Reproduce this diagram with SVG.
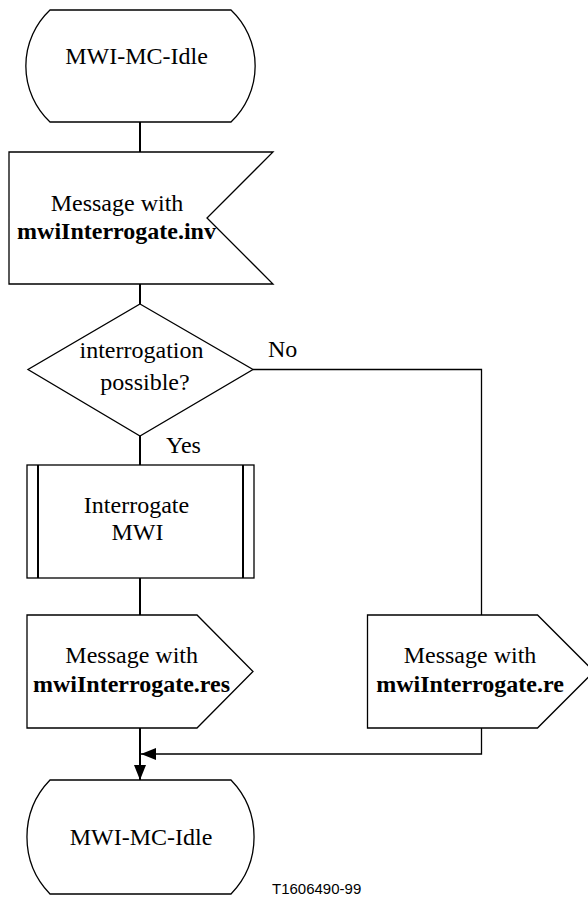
<svg xmlns="http://www.w3.org/2000/svg" width="588" height="897" viewBox="0 0 588 897">
<defs>
<style>
.shape{fill:#fff;stroke:#000;stroke-width:1.3}
.t{font-family:"Liberation Serif","Times New Roman",serif;font-size:24px;fill:#000;text-anchor:middle}
.b{font-weight:bold}
.lbl{font-family:"Liberation Serif","Times New Roman",serif;font-size:24px;fill:#000}
.main{fill:none;stroke:#000;stroke-width:2}
.thin{fill:none;stroke:#000;stroke-width:1.3}
</style>
<marker id="ah" viewBox="0 0 15 12" refX="15" refY="6" markerWidth="15" markerHeight="12" markerUnits="userSpaceOnUse" orient="auto">
<path d="M0,0 L15,6 L0,12 Z" fill="#000"/>
</marker>
</defs>
<rect width="588" height="897" fill="#fff"/>
<g id="connectors">
<line class="main" x1="140" y1="122" x2="140" y2="152"/>
<line class="main" x1="140" y1="284" x2="140" y2="304"/>
<polyline class="thin" points="253,369.5 481.5,369.5 481.5,615"/>
<line class="main" x1="140" y1="436" x2="140" y2="465"/>
<line class="main" x1="140" y1="578" x2="140" y2="615"/>
<line class="main" x1="140" y1="728" x2="140" y2="780" marker-end="url(#ah)"/>
<polyline class="thin" points="481.5,728 481.5,754 141,754" marker-end="url(#ah)"/>
</g>
<g id="state-top">
<path class="shape" d="M50,10 L231,10 A77 77 0 0 1 231,122 L50,122 A77 77 0 0 1 50,10 Z"/>
<text class="t" x="136.5" y="64">MWI-MC-Idle</text>
</g>
<g id="input-inv">
<polygon class="shape" points="9,152 273,152 207,218 273,284 9,284"/>
<text class="t" x="117" y="210.7">Message with</text>
<text class="t b" x="116.5" y="239.3">mwiInterrogate.inv</text>
</g>
<g id="decision">
<polygon class="shape" points="140,304 253,369.5 140,436 28,369.5"/>
<text class="t" x="141.5" y="358.3">interrogation</text>
<text class="t" x="145" y="390">possible?</text>
<text class="lbl" x="268" y="356.7">No</text>
<text class="lbl" x="166" y="452.7">Yes</text>
</g>
<g id="procedure">
<rect class="shape" x="27" y="465" width="227" height="113"/>
<line x1="38" y1="465" x2="38" y2="578" stroke="#000" stroke-width="2"/>
<line x1="243" y1="465" x2="243" y2="578" stroke="#000" stroke-width="2"/>
<text class="t" x="136.5" y="512.7">Interrogate</text>
<text class="t" x="137.5" y="540">MWI</text>
</g>
<g id="output-res">
<polygon class="shape" points="27,615 197,615 253,671.5 197,728 27,728"/>
<text class="t" x="131.7" y="663.3">Message with</text>
<text class="t b" x="131.5" y="691.7">mwiInterrogate.res</text>
</g>
<g id="output-re">
<polygon class="shape" points="367.5,615 537.5,615 594,671.5 537.5,728 367.5,728"/>
<text class="t" x="470" y="663.3">Message with</text>
<text class="t b" x="470" y="691.7">mwiInterrogate.re</text>
</g>
<g id="state-bottom">
<path class="shape" d="M50,780 L231,780 A82 82 0 0 1 231,894 L50,894 A82 82 0 0 1 50,780 Z"/>
<text class="t" x="141" y="845">MWI-MC-Idle</text>
</g>
<text x="272" y="894" font-family="Liberation Sans, Arial, sans-serif" font-size="15" fill="#000">T1606490-99</text>
</svg>
